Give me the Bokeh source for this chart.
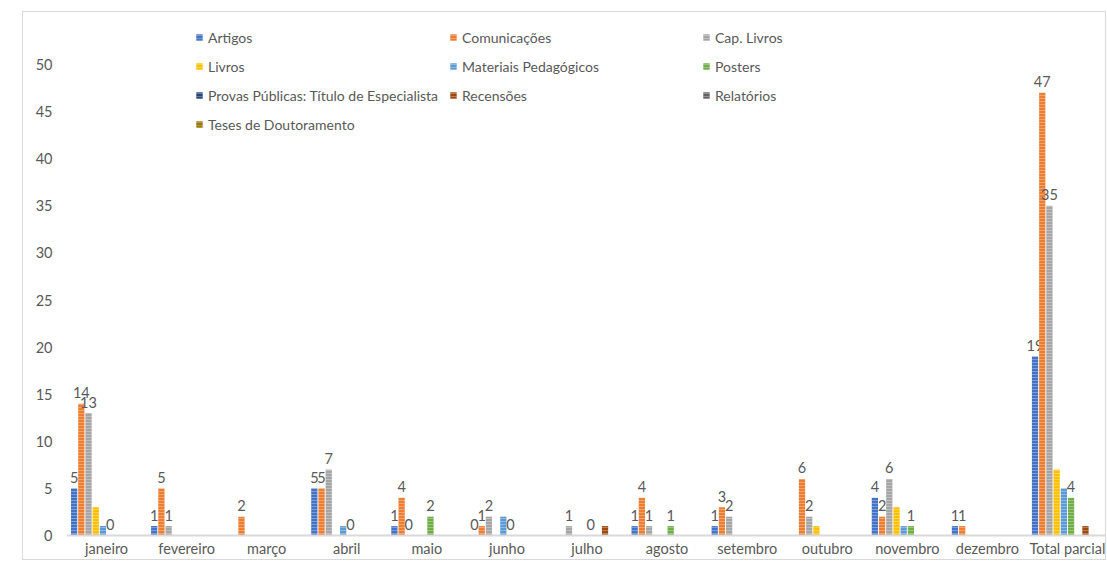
import math
from bokeh.plotting import figure
from bokeh.models import (ColumnDataSource, Range1d, FactorRange, FixedTicker, Legend, LegendItem, Span)
from bokeh.transform import dodge
from bokeh.core.properties import value
from bokeh.embed import file_html
from bokeh.resources import INLINE

N = None
months = ["janeiro", "fevereiro", "março", "abril", "maio", "junho", "julho",
          "agosto", "setembro", "outubro", "novembro", "dezembro", "Total parcial"]

series_names = ["Artigos", "Comunicações", "Cap. Livros", "Livros", "Materiais Pedagógicos",
                "Posters", "Provas Públicas: Título de Especialista", "Recensões", "Relatórios",
                "Teses de Doutoramento"]

artigos       = [5, 1, N, 5, 1, 0, N, 1, 1, N, 4, 1, 19]
comunicacoes  = [14, 5, 2, 5, 4, 1, N, 4, 3, 6, 2, 1, 47]
cap_livros    = [13, 1, N, 7, 0, 2, 1, 1, 2, 2, 6, N, 35]
livros        = [3, N, N, N, N, N, N, N, N, 1, 3, N, 7]
materiais     = [1, N, N, 1, N, 2, N, N, N, N, 1, N, 5]
posters       = [0, N, N, 0, 2, 0, 0, 1, N, N, 1, N, 4]
provas        = [N] * 13
recensoes     = [N, N, N, N, N, N, 1, N, N, N, N, N, 1]
relatorios    = [N] * 13
teses         = [N] * 13

series_values = [artigos, comunicacoes, cap_livros, livros, materiais, posters,
                 provas, recensoes, relatorios, teses]
colors = ["#4472C4", "#ED7D31", "#A5A5A5", "#FFC000", "#5B9BD5", "#70AD47",
          "#264478", "#9E480E", "#636363", "#997300"]
labelled = [0, 1, 2, 5]   # series that show data labels

y_ticks = [0, 5, 10, 15, 20, 25, 30, 35, 40, 45, 50]

FONT = "Lato"
TXT = "#595959"

FRAME_H = 544
p = figure(x_range=FactorRange(*months), y_range=Range1d(-2.76, 55),
           width=1084, height=549, output_backend="svg", toolbar_location=None,
           min_border_left=43, min_border_right=0, min_border_top=5, min_border_bottom=0)
p.margin = (11, 0, 0, 22)
p.styles = {"border": "1px solid #D9D9D9"}
p.outline_line_color = None
p.xgrid.visible = False
p.ygrid.visible = False
p.x_range.range_padding = 0
p.x_range.factor_padding = 0
p.xaxis.visible = False

p.yaxis.ticker = FixedTicker(ticks=y_ticks)
p.yaxis.axis_line_color = None
p.yaxis.major_tick_line_color = None
p.yaxis.minor_tick_line_color = None
p.yaxis.major_label_standoff = 8
p.yaxis.major_label_text_font = FONT
p.yaxis.major_label_text_font_size = "14.5px"
p.yaxis.major_label_text_color = TXT

# category axis line and labels
p.add_layout(Span(location=0, dimension="width", line_color="#D9D9D9", line_width=2))
csrc = ColumnDataSource(dict(month=months, y=[0] * len(months)))
p.text(x="month", y="y", text="month", source=csrc, text_align="center",
       text_baseline="alphabetic", y_offset=13, text_font=value(FONT),
       text_font_size="14.5px", text_color=TXT)

slot = 0.09
renderers = []
for i, (name, vals, col) in enumerate(zip(series_names, series_values, colors)):
    top = [math.nan if v is None else v for v in vals]
    src = ColumnDataSource(dict(month=months, top=top))
    off = (i - 4.5) * slot
    r = p.vbar(x=dodge("month", off, range=p.x_range), top="top", bottom=0, width=0.078,
               source=src, fill_color=col, line_color=None,
               hatch_pattern="horizontal_line", hatch_color="white", hatch_alpha=0.3,
               hatch_scale=3, hatch_weight=1)
    renderers.append(r)
    if i in labelled:
        lm = [m for m, v in zip(months, vals) if v is not None]
        lv = [v for v in vals if v is not None]
        lsrc = ColumnDataSource(dict(month=lm, y=lv, t=[str(v) for v in lv]))
        p.text(x=dodge("month", off, range=p.x_range), y="y", text="t", source=lsrc,
               text_align="center", text_baseline="alphabetic", y_offset=-11,
               text_font=value(FONT), text_font_size="14.5px", text_color=TXT)

cols = [[0, 3, 6, 9], [1, 4, 7], [2, 5, 8]]
xs = [129, 383, 636]
for c, x in zip(cols, xs):
    items = [LegendItem(label=series_names[k], renderers=[renderers[k]]) for k in c]
    h = len(c) * 20 + (len(c) - 1) * 9
    leg = Legend(items=items, location=(x, FRAME_H - 10 - h), orientation="vertical",
                 glyph_width=8, glyph_height=8, label_height=20, spacing=9,
                 label_standoff=5, padding=0, margin=0, border_line_color=None,
                 background_fill_alpha=0, label_text_font=FONT,
                 label_text_font_size="14px", label_text_color=TXT)
    p.add_layout(leg, "center")

open("out.html", "w").write(file_html(p, INLINE))
